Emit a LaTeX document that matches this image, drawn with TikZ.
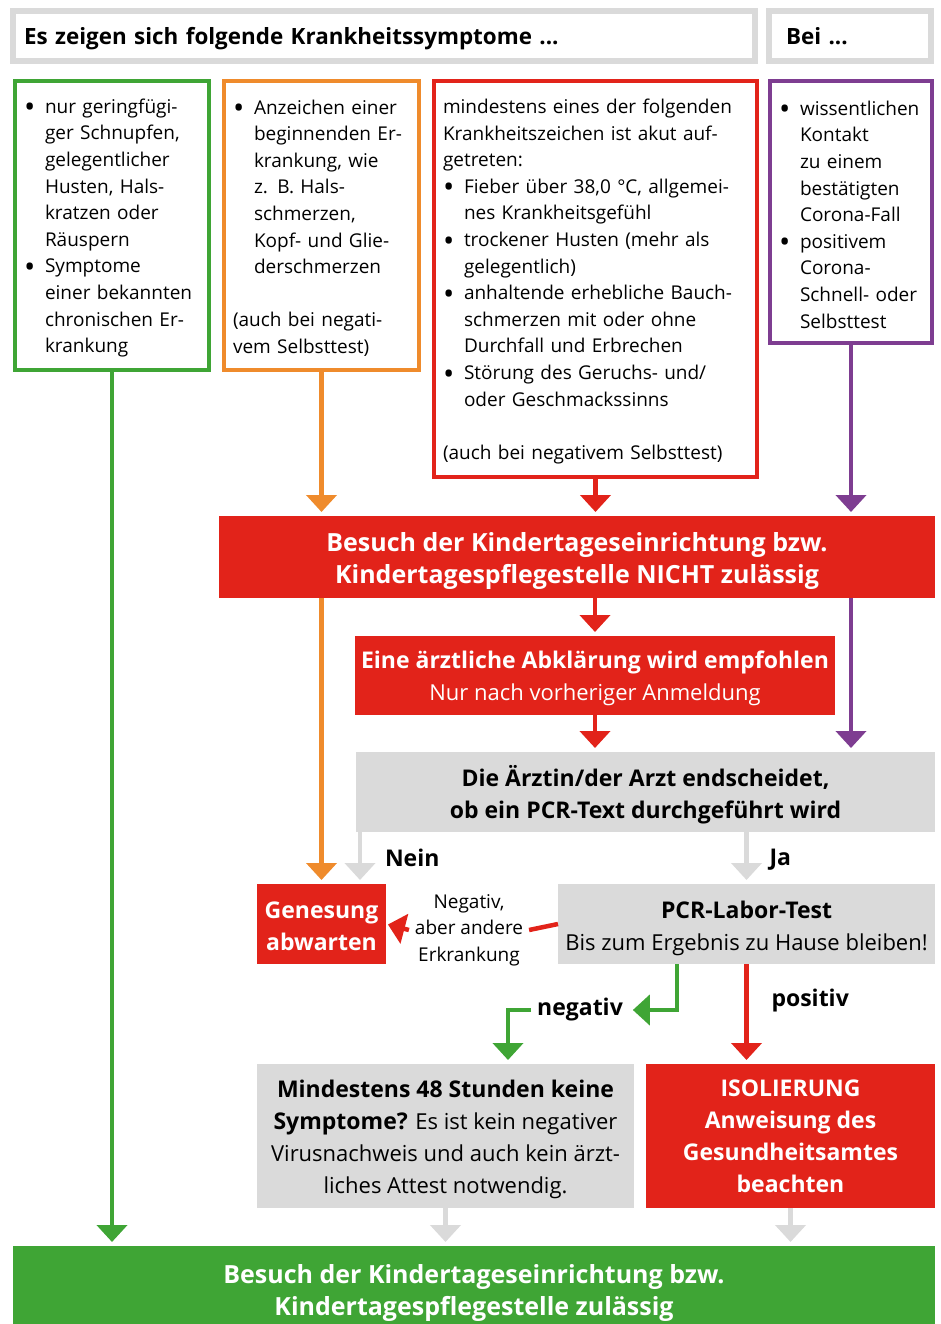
\documentclass[tikz,border=0pt]{standalone}
\usepackage{fontspec}
\setmainfont{Open Sans}
\usetikzlibrary{arrows.meta}
\definecolor{cgreen}{HTML}{3FA535}
\definecolor{corange}{HTML}{EF8B2C}
\definecolor{cred}{HTML}{E2231A}
\definecolor{cpurple}{HTML}{7E3D91}
\definecolor{cgray}{HTML}{DADADA}
\newcommand\symsize{\fontsize{19}{26.6}\selectfont}
\newcommand\boxsize{\fontsize{22}{32}\selectfont}
\newcommand\headsize{\fontsize{22.4}{32}\selectfont\bfseries}
\newcommand\bigbold{\fontsize{23}{32}\selectfont\bfseries}
\newcommand\banner{\fontsize{25}{32}\selectfont\bfseries}
\newcommand\bul{\makebox[21pt][l]{\raisebox{-4.5pt}{\fontsize{30}{26.6}\selectfont\textbullet}}}
\newcommand\ind{\hspace*{21pt}}
\newcommand\lift[1]{\rule{0pt}{#1}}

\begin{document}
\begin{tikzpicture}
  [x=1pt, y=-1pt, outer sep=0pt,
   headbox/.style={draw=cgray, line width=6pt, inner xsep=11pt, anchor=north west, align=left, minimum height=50pt, font=\headsize},
   sympt/.style={draw=#1, line width=4pt, inner xsep=9pt, inner ysep=0pt, anchor=north west, align=left, font=\symsize,
     execute at begin node={\lift{19.5pt}}},
   block/.style={fill=#1, inner sep=0pt, anchor=north west, align=center, font=\bigbold},
   flow/.style={draw=#1, line width=4.5pt, -{Triangle[width=30pt,length=17pt]}, shorten >=4pt},
   flowlabel/.style={font=\bigbold, inner xsep=6pt}]
	\useasboundingbox (0,0) rectangle (941,1324);

	\node [headbox, name=hdrsym, text width=720pt] at (13,11) {\lift{23pt}Es zeigen sich folgende Krankheitssymptome ...};
	\node [headbox, name=hdrbei, text width=128pt, inner xsep=17pt] at (769,11) {\lift{18pt}Bei ...};

	\node [sympt=cgreen, name=green, text width=176pt, minimum height=289pt] at (15,81)
		{\bul nur geringfügi-\\
		\ind ger Schnupfen,\\
		\ind gelegentlicher\\
		\ind Husten, Hals-\\
		\ind kratzen oder\\
		\ind Räuspern\\
		\bul Symptome\\
		\ind einer bekannten\\
		\ind chronischen Er-\\
		\ind krankung};
	\node [sympt=corange, name=orange, text width=177pt, minimum height=289pt] at (224,81)
		{\bul Anzeichen einer\\
		\ind beginnenden Er-\\
		\ind krankung, wie\\
		\ind z. B. Hals-\\
		\ind schmerzen,\\
		\ind Kopf- und Glie-\\
		\ind derschmerzen\\[26.6pt]
		(auch bei negati-\\
		vem Selbsttest)};
	\node [sympt=cred, name=red, text width=305pt, minimum height=396pt] at (434,81)
		{mindestens eines der folgenden\\
		Krankheitszeichen ist akut auf-\\
		getreten:\\
		\bul Fieber über 38,0 °C, allgemei-\\
		\ind nes Krankheitsgefühl\\
		\bul trockener Husten (mehr als\\
		\ind gelegentlich)\\
		\bul anhaltende erhebliche Bauch-\\
		\ind schmerzen mit oder ohne\\
		\ind Durchfall und Erbrechen\\
		\bul Störung des Geruchs- und/\\
		\ind oder Geschmackssinns\\[26.6pt]
		(auch bei negativem Selbsttest)};
	\node [sympt=cpurple, name=purple, text width=144pt, minimum height=262pt] at (770,81)
		{\bul wissentlichen\\
		\ind Kontakt\\
		\ind zu einem\\
		\ind bestätigten\\
		\ind Corona-Fall\\
		\bul positivem\\
		\ind Corona-\\
		\ind Schnell- oder\\
		\ind Selbsttest};

	\node [block=cred, name=notok, text=white, font=\banner, minimum width=716pt, minimum height=82pt] at (219,516)
		{\lift{27pt}Besuch der Kindertageseinrichtung bzw.\\Kindertagespflegestelle NICHT zulässig};
	\node [block=cred, name=arzt, text=white, minimum width=480pt, minimum height=79pt] at (355,636)
		{\lift{24pt}Eine ärztliche Abklärung wird empfohlen\\{\boxsize\mdseries Nur nach vorheriger Anmeldung}};
	\node [block=cgray, name=decide, minimum width=579pt, minimum height=80pt] at (356,752)
		{\lift{27.5pt}Die Ärztin/der Arzt endscheidet,\\ob ein PCR-Text durchgeführt wird};
	\node [block=cred, name=genesung, text=white, minimum width=129pt, minimum height=80pt] at (257,884)
		{\lift{20.5pt}Genesung\\abwarten};
	\node [block=cgray, name=pcr, minimum width=377pt, minimum height=80pt] at (558,884)
		{\lift{25.5pt}PCR-Labor-Test\\{\boxsize\mdseries Bis zum Ergebnis zu Hause bleiben!}};
	\node [block=cgray, name=wait48, minimum width=377pt, minimum height=144pt, font=\boxsize] at (257,1064)
		{{\bigbold\lift{24pt}Mindestens 48 Stunden keine}\\{\bigbold Symptome?} Es ist kein negativer\\Virusnachweis und auch kein ärzt-\\liches Attest notwendig.};
	\node [block=cred, name=isol, text=white, minimum width=289pt, minimum height=144pt] at (646,1064)
		{ISOLIERUNG\\Anweisung des\\Gesundheitsamtes\\beachten};
	\node [block=cgreen, name=ok, text=white, font=\banner, minimum width=922pt, minimum height=88pt] at (13,1246)
		{\lift{25pt}Besuch der Kindertageseinrichtung bzw.\\Kindertagespflegestelle zulässig};

	\node [name=negother, font=\symsize, align=center, inner xsep=6pt] at (469,930) {Negativ,\\aber andere\\Erkrankung};
	\node [flowlabel, name=negativ] at (580,1010) {negativ};

	\draw [flow=cgreen] (green.south) -- (green.south |- ok.north);
	\draw [flow=corange] (orange.south) -- (orange.south |- notok.north);
	\draw [flow=cred] (red.south) -- (red.south |- notok.north);
	\draw [flow=cpurple] (purple.south) -- (purple.south |- notok.north);
	\draw [flow=corange] (genesung.north |- notok.south) -- (genesung.north);
	\draw [flow=cred] (arzt.north |- notok.south) -- (arzt.north);
	\draw [flow=cpurple] (purple.south |- notok.south) -- (purple.south |- decide.north);
	\draw [flow=cred] (arzt.south) -- (arzt.south |- decide.north);
	\draw [flow=cgray] ([xshift=4pt]decide.south west) -- ([xshift=4pt]decide.south west |- genesung.north)
		node [flowlabel, midway, right=19pt, name=nein] {Nein};
	\draw [flow=cgray] (pcr.north |- decide.south) -- (pcr.north)
		node [flowlabel, midway, right=17pt, yshift=-2pt, name=ja] {Ja};
	\draw [draw=cred, line width=4.5pt] (pcr.west) -- (negother.east);
	\draw [flow=cred, shorten >=2pt] (negother.west) -- (genesung.east);
	\draw [flow=cgreen] ([xshift=119pt]pcr.south west) |- (negativ.east);
	\draw [flow=cgreen] (negativ.west) -| ([xshift=251pt]wait48.north west);
	\draw [flow=cred] (pcr.south) -- (pcr.south |- isol.north)
		node [flowlabel, pos=0.37, right=19pt, name=positiv] {positiv};
	\draw [flow=cgray] (wait48.south) -- (wait48.south |- ok.north);
	\draw [flow=cgray] (isol.south) -- (isol.south |- ok.north);
\end{tikzpicture}
\end{document}
